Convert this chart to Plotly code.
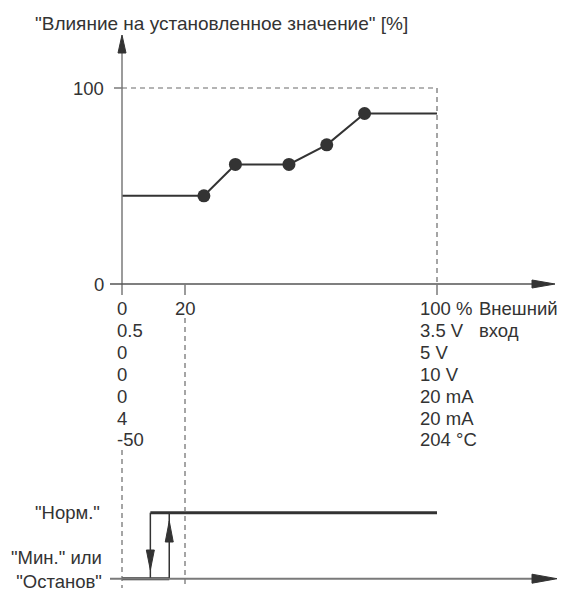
import plotly.graph_objects as go

W, H = 561, 596

# influence on setpoint vs external input (% of input range)
input_pct = [0, 26, 36, 53, 65, 77, 100]
influence_pct = [45, 45, 61, 61, 71, 87, 87]

# what 0 % and 100 % of the input mean for each input type
scale_min = ["0", "0.5", "0", "0", "0", "4", "-50"]
scale_max = ["100 %", "3.5 V", "5 V", "10 V", "20 mA", "20 mA", "204 °C"]

# stop function: switch-off / switch-on thresholds and limit (% of input)
stop_off = 9
stop_on = 15
stop_limit = 20

TEXT = "#333333"
DARK = "#333333"
AXIS = "#7a7a7a"
FONT = "Liberation Sans, Arial, sans-serif"

# pixel geometry of the drawing
X0_PX, X100_PX = 122, 437
Y0_PX, Y100_PX = 284, 88
LOW_PX, HIGH_PX = 578.7, 512.7

sx = (X100_PX - X0_PX) / 100
sy = (Y0_PX - Y100_PX) / 100
s2 = LOW_PX - HIGH_PX
x_range = [-X0_PX / sx, (W - X0_PX) / sx]
y_range = [-(H - Y0_PX) / sy, Y0_PX / sy]
y2_range = [-(H - LOW_PX) / s2, LOW_PX / s2]


def px_x(px):
    return (px - X0_PX) / sx


def px_y(py):
    return (Y0_PX - py) / sy


def px_y2(py):
    return (LOW_PX - py) / s2


def paper_y(py):
    return 1 - py / H


def head(tip_x, tip_y, direction, yref="y", length=22, width=8):
    """Filled triangular arrowhead, tip given in data units."""
    ys = sy if yref == "y" else s2
    l, w = length, width / 2
    if direction == "right":
        pts = [(tip_x, tip_y), (tip_x - l / sx, tip_y + w / ys), (tip_x - l / sx, tip_y - w / ys)]
    elif direction == "up":
        pts = [(tip_x, tip_y), (tip_x - w / sx, tip_y - l / ys), (tip_x + w / sx, tip_y - l / ys)]
    else:
        pts = [(tip_x, tip_y), (tip_x - w / sx, tip_y + l / ys), (tip_x + w / sx, tip_y + l / ys)]
    path = "M " + " L ".join(f"{a},{b}" for a, b in pts) + " Z"
    return dict(type="path", path=path, xref="x", yref=yref,
                fillcolor=DARK, line=dict(color=DARK, width=1))


fig = go.Figure()

# characteristic curve
fig.add_trace(go.Scatter(
    x=input_pct, y=influence_pct, mode="lines",
    line=dict(color=DARK, width=2), hoverinfo="skip",
))
fig.add_trace(go.Scatter(
    x=input_pct[1:-1], y=influence_pct[1:-1], mode="markers",
    marker=dict(color=DARK, size=13), hoverinfo="skip",
))

# stop function: "Норм." and "Мин./Останов" levels
fig.add_trace(go.Scatter(
    x=[stop_off, 100], y=[1, 1], yaxis="y2", mode="lines",
    line=dict(color=DARK, width=3), hoverinfo="skip",
))
fig.add_trace(go.Scatter(
    x=[0, stop_on], y=[0, 0], yaxis="y2", mode="lines",
    line=dict(color=DARK, width=3), hoverinfo="skip",
))
fig.add_trace(go.Scatter(
    x=[stop_off, stop_off, None, stop_on, stop_on], y=[1, 0, None, 0, 1], yaxis="y2",
    mode="lines", line=dict(color=DARK, width=1.5), hoverinfo="skip",
))

shapes = []
# top axes
shapes.append(dict(type="line", xref="x", yref="y", x0=0, x1=0, y0=px_y(295), y1=px_y(50),
                   line=dict(color=AXIS, width=1.5)))
shapes.append(dict(type="line", xref="x", yref="y", x0=px_x(110), x1=px_x(535), y0=0, y1=0,
                   line=dict(color="#555555", width=1.5)))
shapes.append(head(0, px_y(35), "up", length=18, width=8))
shapes.append(head(px_x(555), 0, "right", length=23, width=8))
# ticks
shapes.append(dict(type="line", xref="x", yref="y", x0=px_x(114), x1=0, y0=100, y1=100,
                   line=dict(color=AXIS, width=1.5)))
for xv in (stop_limit, 100):
    shapes.append(dict(type="line", xref="x", yref="y", x0=xv, x1=xv, y0=0, y1=px_y(295),
                       line=dict(color=AXIS, width=1.5)))
# dashed 100 % frame
dash = dict(color="#6a6a6a", width=1.2, dash="5px,4px")
shapes.append(dict(type="line", xref="x", yref="y", x0=0, x1=100, y0=100, y1=100, line=dash))
shapes.append(dict(type="line", xref="x", yref="y", x0=100, x1=100, y0=100, y1=0, line=dash))
# dashed guides down to the stop function
shapes.append(dict(type="line", xref="x", yref="paper", x0=stop_limit, x1=stop_limit,
                   y0=paper_y(318), y1=paper_y(588), line=dash))
shapes.append(dict(type="line", xref="x", yref="paper", x0=0, x1=0,
                   y0=paper_y(450), y1=paper_y(588), line=dash))
# bottom axis
shapes.append(dict(type="line", xref="x", yref="y2", x0=px_x(110), x1=px_x(535), y0=0, y1=0,
                   line=dict(color=AXIS, width=2)))
shapes.append(head(px_x(557), 0, "right", yref="y2", length=25, width=9))
# hysteresis arrows
shapes.append(head(stop_off, px_y2(570), "down", yref="y2", length=20, width=8))
shapes.append(head(stop_on, px_y2(521), "up", yref="y2", length=21, width=8))

ann = []


def label(text, x, y, xref="x", yref="paper", xanchor="left", size=18.5, **kw):
    ann.append(dict(text=text, x=x, y=y, xref=xref, yref=yref, xanchor=xanchor,
                    yanchor="middle", showarrow=False,
                    font=dict(family=FONT, size=size, color=TEXT), **kw))


label('"Влияние на установленное значение" [%]', 33 / W, paper_y(23), xref="paper", size=19)
label("100", 106 / W, 100, xref="paper", yref="y", xanchor="right")
label("0", 106 / W, 0, xref="paper", yref="y", xanchor="right")
label(str(stop_limit), stop_limit, paper_y(309), xanchor="center")
row_px = [309 + 21.8 * i for i in range(len(scale_min))]
for lo, hi, py in zip(scale_min, scale_max, row_px):
    label(lo, px_x(115), paper_y(py))
    label(hi, px_x(418), paper_y(py))
label("Внешний", px_x(477), paper_y(309))
label("вход", px_x(477), paper_y(331))
label('"Норм."', 102 / W, 1, xref="paper", yref="y2", xanchor="right")
label('"Мин." или<br>"Останов"', 104 / W, paper_y(569), xref="paper", xanchor="right",
      align="right")

fig.update_layout(
    width=W, height=H, autosize=False,
    margin=dict(l=0, r=0, t=0, b=0),
    paper_bgcolor="white", plot_bgcolor="white",
    showlegend=False,
    xaxis=dict(range=x_range, visible=False, fixedrange=True),
    yaxis=dict(range=y_range, visible=False, fixedrange=True),
    yaxis2=dict(range=y2_range, visible=False, overlaying="y", fixedrange=True),
    shapes=shapes,
    annotations=ann,
)

# drop the default page margin so the figure sits at the window's corner
fig.write_html("out.html", config={"displayModeBar": False},
               post_script="document.body.style.margin='0';")
